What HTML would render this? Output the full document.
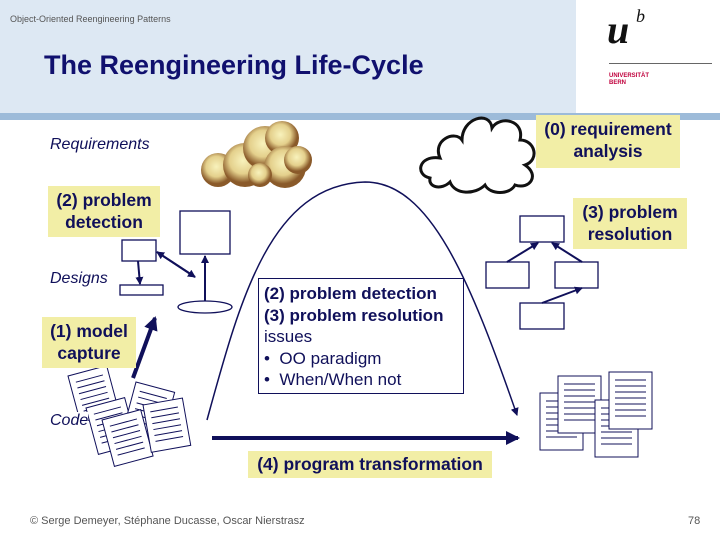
<!DOCTYPE html>
<html><head><style>
body{margin:0;width:720px;height:540px;position:relative;background:#fff;font-family:"Liberation Sans",sans-serif;overflow:hidden}
.a{position:absolute}
.lab{position:absolute;background:#f2eea6;color:#10105a;font-weight:bold;font-size:17.5px;text-align:center;line-height:22px;z-index:2}
.it{position:absolute;color:#10105a;font-style:italic;font-size:16px;z-index:3}
</style></head><body>
<div class="a" style="left:0;top:0;width:576px;height:113px;background:#dde8f3"></div>
<div class="a" style="left:0;top:113px;width:720px;height:7px;background:#9dbbd9"></div>
<div class="a" style="left:10px;top:14px;font-size:9px;color:#555">Object-Oriented Reengineering Patterns</div>
<div class="a" style="left:44px;top:50px;font-size:27px;font-weight:bold;color:#10106e">The Reengineering Life-Cycle</div>
<div class="a" style="left:607px;top:6px;font-family:'Liberation Serif',serif;font-style:italic;font-weight:bold;font-size:40px;color:#111">u</div>
<div class="a" style="left:636px;top:6px;font-family:'Liberation Serif',serif;font-style:italic;font-size:18px;color:#111">b</div>
<div class="a" style="left:609px;top:63px;width:103px;height:1px;background:#666"></div>
<div class="a" style="left:609px;top:73px;font-size:6px;line-height:7px;color:#c0003c;font-weight:bold">UNIVERSITÄT<br>BERN</div>

<div class="it" style="left:50px;top:136px">Requirements</div>
<div class="it" style="left:50px;top:270px">Designs</div>
<div class="it" style="left:50px;top:412px;background:#fff">Code</div>
<div class="lab" style="left:536px;top:115px;width:144px;height:50px;padding-top:3px">(0) requirement<br>analysis</div>
<div class="lab" style="left:48px;top:186px;width:112px;height:48px;padding-top:3px">(2) problem<br>detection</div>
<div class="lab" style="left:573px;top:198px;width:114px;height:48px;padding-top:3px">(3) problem<br>resolution</div>
<div class="lab" style="left:42px;top:317px;width:94px;height:48px;padding-top:3px">(1) model<br>capture</div>
<div class="lab" style="left:248px;top:451px;width:244px;height:27px;line-height:27px">(4) program transformation</div>
<div class="a" style="left:258px;top:278px;width:206px;height:116px;border:1px solid #10105a;background:#fff;color:#10105a;font-size:17px;line-height:21.5px;padding:4px 0 0 5px;box-sizing:border-box;z-index:2"><b>(2) problem detection<br>(3) problem resolution</b><br>issues<br>• &nbsp;OO paradigm<br>• &nbsp;When/When not</div>
<div class="a" style="left:30px;top:515px;font-size:11px;color:#555">© Serge Demeyer, Stéphane Ducasse, Oscar Nierstrasz</div>
<div class="a" style="left:688px;top:515px;font-size:11px;color:#555">78</div>

<svg class="a" style="left:0;top:0" width="720" height="540">
<defs>
<marker id="m" markerWidth="8" markerHeight="8" refX="7" refY="4" orient="auto" markerUnits="userSpaceOnUse"><path d="M0,0L8,4L0,8z" fill="#10105a"/></marker>
<marker id="mb" markerWidth="14" markerHeight="14" refX="12" refY="7" orient="auto" markerUnits="userSpaceOnUse"><path d="M0,0L14,7L0,14z" fill="#10105a"/></marker>
<radialGradient id="g" cx="0.45" cy="0.4"><stop offset="0" stop-color="#f8f2bc"/><stop offset="0.6" stop-color="#e4d08c"/><stop offset="1" stop-color="#8a5a2a"/></radialGradient>
</defs>
<g fill="url(#g)">
<circle cx="218" cy="170" r="17"/><circle cx="245" cy="165" r="22"/><circle cx="265" cy="148" r="22"/><circle cx="282" cy="138" r="17"/><circle cx="285" cy="167" r="21"/><circle cx="298" cy="160" r="14"/><circle cx="260" cy="175" r="12"/>
</g>
<g fill="none" stroke="#111" stroke-width="3">
<path d="M430,178 C415,175 418,155 440,158 C432,140 455,130 462,140 C462,118 490,110 492,128 C500,115 525,120 520,140 C535,140 540,160 525,165 C540,175 530,190 515,185 C510,195 490,195 485,185 C475,195 455,195 450,182 C442,190 428,188 430,178 Z"/>
</g>
<g fill="none" stroke="#10105a" stroke-width="1.3">
<rect x="180" y="211" width="50" height="43"/>
<rect x="122" y="240" width="34" height="21"/>
<rect x="120" y="285" width="43" height="10"/>
<ellipse cx="205" cy="307" rx="27" ry="6"/>
<rect x="520" y="216" width="44" height="26"/>
<rect x="486" y="262" width="43" height="26"/>
<rect x="555" y="262" width="43" height="26"/>
<rect x="520" y="303" width="44" height="26"/>
</g>
<g stroke="#10105a" stroke-width="2" fill="none">
<line x1="138" y1="261" x2="140" y2="284" marker-end="url(#m)"/>
<line x1="195" y1="277" x2="157" y2="252" marker-end="url(#m)"/>
<line x1="157" y1="252" x2="195" y2="277" marker-end="url(#m)"/>
<line x1="205" y1="301" x2="205" y2="256" marker-end="url(#m)"/>
<line x1="507" y1="262" x2="538" y2="243" marker-end="url(#m)"/>
<line x1="582" y1="262" x2="552" y2="243" marker-end="url(#m)"/>
<line x1="542" y1="303" x2="582" y2="288" marker-end="url(#m)"/>
<line x1="133" y1="378" x2="155" y2="318" stroke-width="4" marker-end="url(#mb)"/>
<path d="M207,420 C240,300 270,185 365,182 C430,182 470,280 517,415" stroke-width="1.5" marker-end="url(#m)"/>
<line x1="212" y1="438" x2="518" y2="438" stroke-width="4" marker-end="url(#mb)"/>
</g>
<g fill="#fff" stroke="#10105a" stroke-width="1">
<g transform="translate(68,376) rotate(-15)"><rect width="40" height="48"/><path d="M6,8h28M6,14h28M6,20h28M6,26h28M6,32h28M6,38h28"/></g>
<g transform="translate(86,408) rotate(-15)"><rect width="40" height="48"/><path d="M6,8h28M6,14h28M6,20h28M6,26h28M6,32h28M6,38h28"/></g>
<g transform="translate(136,382) rotate(15)"><rect width="40" height="48"/><path d="M6,8h28M6,14h28M6,20h28M6,26h28M6,32h28M6,38h28"/></g>
<g transform="translate(102,420) rotate(-15)"><rect width="40" height="48"/><path d="M6,8h28M6,14h28M6,20h28M6,26h28M6,32h28M6,38h28"/></g>
<g transform="translate(143,405) rotate(-10)"><rect width="40" height="48"/><path d="M6,8h28M6,14h28M6,20h28M6,26h28M6,32h28M6,38h28"/></g>
<g transform="translate(540,393)"><rect width="43" height="57"/><path d="M6,8h31M6,14h31M6,20h31M6,26h31M6,32h31M6,38h31M6,44h31"/></g>
<g transform="translate(558,376)"><rect width="43" height="57"/><path d="M6,8h31M6,14h31M6,20h31M6,26h31M6,32h31M6,38h31M6,44h31"/></g>
<g transform="translate(595,400)"><rect width="43" height="57"/><path d="M6,8h31M6,14h31M6,20h31M6,26h31M6,32h31M6,38h31M6,44h31"/></g>
<g transform="translate(609,372)"><rect width="43" height="57"/><path d="M6,8h31M6,14h31M6,20h31M6,26h31M6,32h31M6,38h31M6,44h31"/></g>
</g>
</svg>
</body></html>
